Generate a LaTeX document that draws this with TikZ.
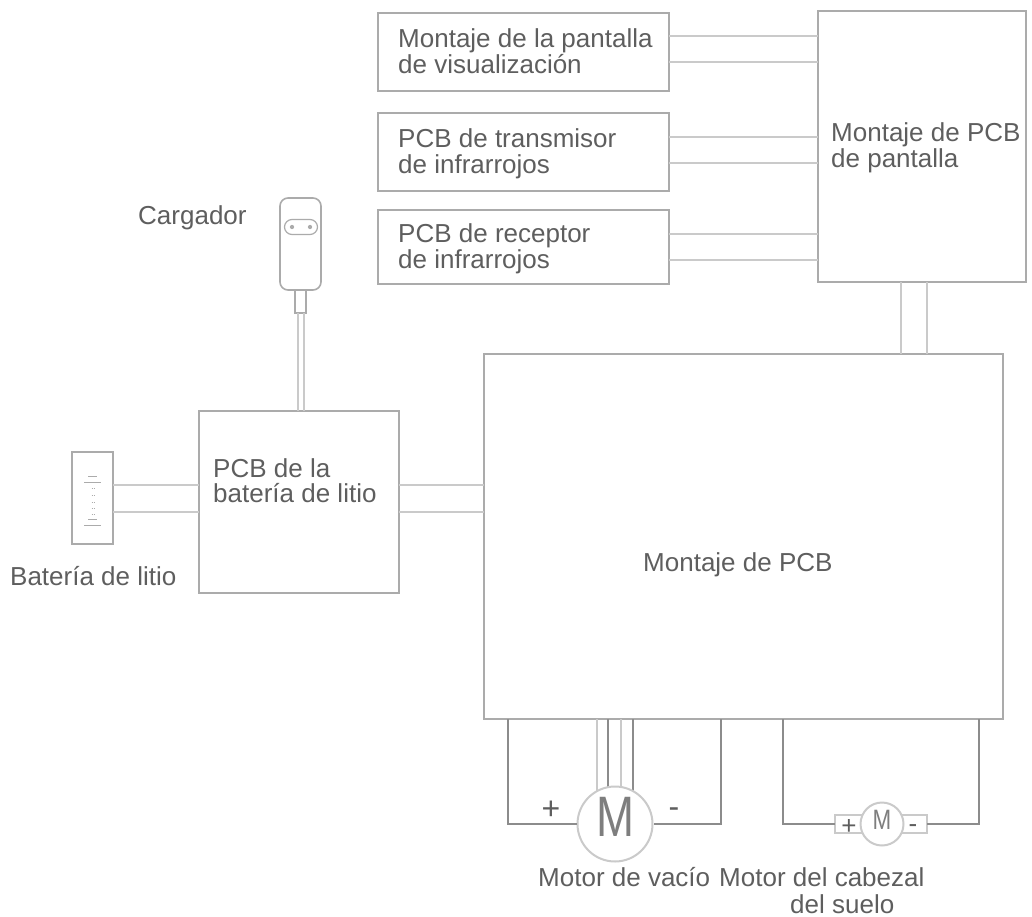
\documentclass[tikz,border=0pt]{standalone}
\usepackage{fontspec}
\setmainfont{Liberation Sans}
\usetikzlibrary{calc,positioning}
\definecolor{linegray}{HTML}{ABABAB}
\definecolor{wiregray}{HTML}{CACACA}
\definecolor{darkwire}{HTML}{8C8C8C}
\definecolor{textgray}{HTML}{5E5E5E}
\tikzset{
box/.style      = {shape=rectangle, draw=linegray, line width=1.6pt,
                   anchor=north west, inner sep=0pt, outer sep=0pt},
boxsize/.style 2 args = {minimum width=#1pt, minimum height=#2pt},
wire/.style     = {draw=wiregray, line width=2pt},
darkline/.style = {draw=darkwire, line width=1.4pt},
txt/.style      = {anchor=base west, inner sep=0pt, text=textgray,
                   font=\fontsize{26}{26}\selectfont},
motor/.style    = {circle, draw=wiregray, fill=white, line width=2pt, inner sep=0pt},
motorm/.style   = {inner sep=0pt, text=textgray!80, xscale=.8},
sign/.style     = {inner sep=0pt, text=textgray, font=\fontsize{32}{32}\selectfont},
smallsign/.style= {inner sep=0pt, text=textgray, font=\fontsize{26}{26}\selectfont},
tick/.style     = {draw=linegray, line width=1pt}
}

\begin{document}
\begin{tikzpicture}[x=1pt, y=-1pt]
\useasboundingbox (0,0) rectangle (1032,917);

\node[box, boxsize={291}{78}]  (disp)    at (378,13)  {};
\node[box, boxsize={291}{78}]  (trans)   at (378,113) {};
\node[box, boxsize={291}{74}]  (recep)   at (378,210) {};
\node[box, boxsize={208}{271}] (screen)  at (818,11)  {};
\node[box, boxsize={519}{365}] (mainpcb) at (484,354) {};
\node[box, boxsize={200}{182}] (batpcb)  at (199,411) {};
\node[box, boxsize={41}{92}]   (bat)     at (72,452)  {};
\node[box, boxsize={41}{92}, rounded corners=8pt] (charger) at (280,198) {};
\node[box, boxsize={11}{23}, anchor=north] (neck) at (charger.south) {};
\node[box, boxsize={33}{15}, rounded corners=7.5pt, anchor=center, line width=1.2pt] (socket) at (301,227) {};

\foreach \x in {292,310} {
    \node[circle, fill=linegray, inner sep=1.5pt] (pin\x) at (\x,227) {};
}

\foreach \a/\y in {disp/36, disp/62, trans/137, trans/163, recep/234, recep/260} {
    \draw[wire] (\a.east |- 0,\y) -- (screen.west |- 0,\y);
}
\foreach \x in {901,927} {
    \draw[wire] (screen.south -| \x,0) -- (mainpcb.north -| \x,0);
}
\foreach \y in {485,512} {
    \draw[wire] (bat.east |- 0,\y) -- (batpcb.west |- 0,\y);
    \draw[wire] (batpcb.east |- 0,\y) -- (mainpcb.west |- 0,\y);
}
\foreach \x in {298,304} {
    \draw[wire] (neck.south -| \x,0) -- (batpcb.north -| \x,0);
}

% battery marks
\foreach \xa/\xb/\y in {88/97/476, 84/101/482, 88/97/519, 84/101/525} {
    \draw[tick] (\xa,\y) -- (\xb,\y);
}
\foreach \y in {488,495,502,508,514} {
    \draw[tick, densely dotted] (91.5,\y) -- (94.5,\y);
}

% motors
\coordinate (vaccenter) at (615,824);
\coordinate (brushcenter) at (882,824);
\foreach \x in {597,621} {
    \draw[wire] (mainpcb.south -| \x,0) -- (vaccenter -| \x,0);
}
\foreach \x in {608,633} {
    \draw[darkline] (mainpcb.south -| \x,0) -- (vaccenter -| \x,0);
}
\node[box, boxsize={47}{18}, draw=wiregray, anchor=east] (plus)  at (brushcenter) {};
\node[box, boxsize={45}{18}, draw=wiregray, anchor=west] (minus) at (brushcenter) {};
\node[motor, minimum size=75pt] (vacuum) at (vaccenter) {};
\node[motor, minimum size=43pt] (brush)  at (brushcenter) {};

\draw[darkline] (mainpcb.south -| 508,0) |- (vacuum.west);
\draw[darkline] (mainpcb.south -| 721,0) |- (vacuum.east);
\draw[darkline] (mainpcb.south -| 783,0) |- (plus.west);
\draw[darkline] (mainpcb.south -| 979,0) |- (minus.east);

\node[motorm, font=\fontsize{57}{57}\selectfont] (bigm)   at (615,817) {M};
\node[motorm, font=\fontsize{28}{28}\selectfont] (smallm) at (882,820) {M};
\node[sign] (vp) at (551,810) {+};
\node[sign] (vm) at (674,813) {-};
\node[smallsign] (bp) at (849,827) {+};
\node[smallsign] (bm) at (913,829) {-};

% labels
\node[txt] (tdisp)    at (398,48)  {Montaje de la pantalla};
\node[txt] (tdisp2)   at (398,74)  {de visualización};
\node[txt] (ttrans)   at (398,148) {PCB de transmisor};
\node[txt] (ttrans2)  at (398,174) {de infrarrojos};
\node[txt] (trecep)   at (398,242) {PCB de receptor};
\node[txt] (trecep2)  at (398,268) {de infrarrojos};
\node[txt] (tscreen)  at (831,142) {Montaje de PCB};
\node[txt] (tscreen2) at (831,168) {de pantalla};
\node[txt] (tmain)    at (643,571) {Montaje de PCB};
\node[txt] (tbat)     at (213,477) {PCB de la};
\node[txt] (tbat2)    at (213,502) {batería de litio};
\node[txt] (tlitio)   at (10,585)  {Batería de litio};
\node[txt] (tcharge)  at (138,225) {Cargador};
\node[txt] (tvac)     at (538,886) {Motor de vacío};
\node[txt] (tbrush)   at (719,886) {Motor del cabezal};
\node[txt] (tbrush2)  at (790,913) {del suelo};
\end{tikzpicture}
\end{document}
